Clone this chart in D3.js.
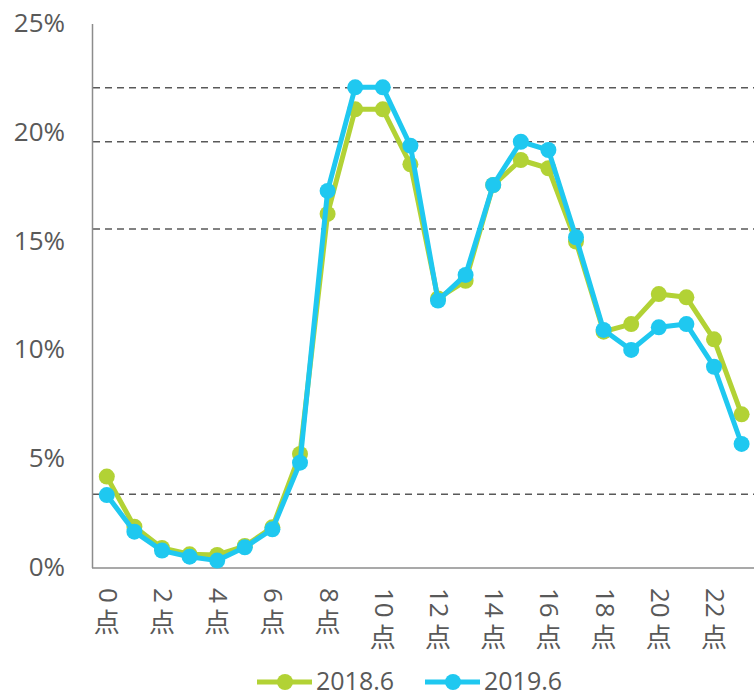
<!DOCTYPE html>
<html><head><meta charset="utf-8">
<script src="https://cdn.jsdelivr.net/npm/d3@7"></script>
<style>
html,body{margin:0;padding:0;background:#fff;}
svg{display:block;font-family:"Open Sans","Noto Sans CJK SC",sans-serif;}
</style></head>
<body><svg id="c" width="754" height="697"></svg>
<script>
const hours = d3.range(0, 24);
const seriesNames = ["2018.6", "2019.6"];
const values2018 = [4.20,1.90,0.92,0.63,0.60,1.01,1.87,5.24,16.27,21.08,21.08,18.55,12.39,13.20,17.60,18.75,18.37,15.00,10.86,11.21,12.59,12.44,10.51,7.06];
const values2019 = [3.35,1.67,0.80,0.52,0.34,0.95,1.78,4.84,17.33,22.09,22.09,19.41,12.29,13.47,17.60,19.59,19.21,15.20,10.94,10.02,11.06,11.21,9.25,5.70];
const yTicks = [0,5,10,15,20,25];
const xTickHours = [0,2,4,6,8,10,12,14,16,18,20,22];
const refLines = [22.07,19.59,15.58,3.39];
const colors = ["#b2d235","#1fc8f0"];

const svg = d3.select("#c");
const x = d3.scaleBand().domain(hours).range([93, 755.4]);
const y = d3.scaleLinear().domain([0,25]).range([568, 24]);
const cx = h => x(h) + x.bandwidth()/2;
const textColor = "#595959";

// reference dashed lines
svg.append("g").selectAll("line").data(refLines).join("line")
  .attr("x1", 93).attr("x2", 754)
  .attr("y1", d=>y(d)).attr("y2", d=>y(d))
  .attr("stroke", "#595959").attr("stroke-width", 1.5).attr("stroke-dasharray", "7,5");

// axes lines
svg.append("line").attr("x1",92.5).attr("x2",92.5).attr("y1",24).attr("y2",568).attr("stroke","#8c8c8c").attr("stroke-width",1.5);
svg.append("line").attr("x1",92).attr("x2",754).attr("y1",568).attr("y2",568).attr("stroke","#8c8c8c").attr("stroke-width",1.5);

// y labels
svg.append("g").selectAll("text").data(yTicks).join("text")
  .attr("x", 65).attr("y", d=>y(d)+1)
  .attr("text-anchor","end").attr("dominant-baseline","middle")
  .attr("font-size", 26).attr("fill", textColor)
  .text(d=>d+"%");

// x labels (vertical: digits rotated, 点 upright)
const xg = svg.append("g").selectAll("g").data(xTickHours).join("g")
  .attr("transform", d=>`translate(${cx(d)},588)`);
xg.append("text")
  .attr("transform","rotate(90)")
  .attr("x",0).attr("y",8)
  .attr("font-size",26).attr("fill",textColor)
  .text(d=>String(d));
xg.append("text")
  .attr("x",0).attr("y", d=> String(d).length*14.9 + 29)
  .attr("text-anchor","middle")
  .attr("font-family","Noto Sans CJK SC")
  .attr("font-size",26).attr("fill",textColor)
  .text("点");

// series
const line = d3.line().x((d,i)=>cx(hours[i])).y(d=>y(d));
[values2018, values2019].forEach((vals, k) => {
  const g = svg.append("g");
  g.append("path").datum(vals).attr("d", line)
    .attr("fill","none").attr("stroke",colors[k]).attr("stroke-width",5).attr("stroke-linejoin","round");
  g.selectAll("circle").data(vals).join("circle")
    .attr("cx",(d,i)=>cx(hours[i])).attr("cy",d=>y(d)).attr("r",8)
    .attr("fill",colors[k]);
});

// legend
const legendX = [257, 425];
const lg = svg.append("g").selectAll("g").data(seriesNames).join("g")
  .attr("transform",(d,i)=>`translate(${legendX[i]},682)`);
lg.append("line").attr("x1",0).attr("x2",55).attr("y1",0).attr("y2",0)
  .attr("stroke",(d,i)=>colors[i]).attr("stroke-width",5);
lg.append("circle").attr("cx",28).attr("cy",0).attr("r",8).attr("fill",(d,i)=>colors[i]);
lg.append("text").attr("x",59).attr("y",8).attr("font-size",25).attr("fill",textColor).text(d=>d);
</script></body></html>
